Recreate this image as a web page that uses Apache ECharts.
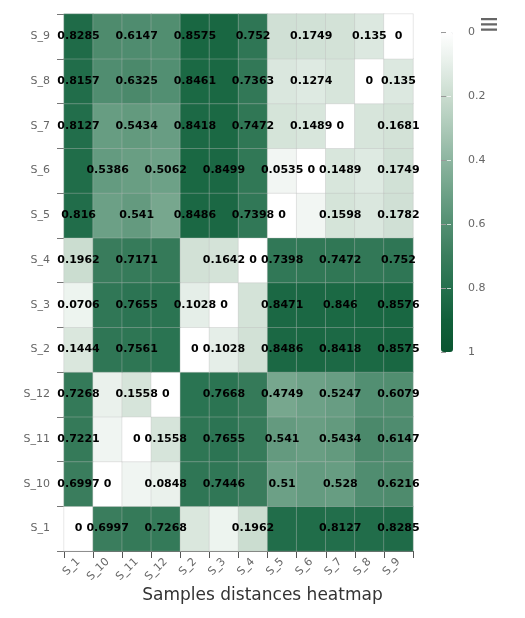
<!DOCTYPE html>
<html><head><meta charset="utf-8">
<script src="https://cdn.jsdelivr.net/npm/echarts@6/dist/echarts.min.js"></script>
<style>html,body{margin:0;padding:0;background:#fff}#c{width:525px;height:618px}</style>
</head><body><div id="c"></div>
<script>
// Category order along both axes
const samples = ['S_1','S_10','S_11','S_12','S_2','S_3','S_4','S_5','S_6','S_7','S_8','S_9'];
// Distance rows (one per sample, columns follow `samples`)
const row_S_1  = [0, 0.6997, 0.7221, 0.7268, 0.1444, 0.0706, 0.1962, 0.816, 0.82, 0.8127, 0.8157, 0.8285];
const row_S_10 = [0.6997, 0, 0.0605, 0.0848, 0.7513, 0.7446, 0.7065, 0.51, 0.5386, 0.528, 0.6108, 0.6216];
const row_S_11 = [0.7221, 0.0605, 0, 0.1558, 0.7561, 0.7655, 0.7171, 0.541, 0.5213, 0.5434, 0.6325, 0.6147];
const row_S_12 = [0.7268, 0.0848, 0.1558, 0, 0.7712, 0.7668, 0.7235, 0.4749, 0.5062, 0.5247, 0.6021, 0.6079];
const row_S_2  = [0.1444, 0.7513, 0.7561, 0.7712, 0, 0.1028, 0.1713, 0.8486, 0.8507, 0.8418, 0.8461, 0.8575];
const row_S_3  = [0.0706, 0.7446, 0.7655, 0.7668, 0.1028, 0, 0.1642, 0.8471, 0.8499, 0.846, 0.8502, 0.8576];
const row_S_4  = [0.1962, 0.7065, 0.7171, 0.7235, 0.1713, 0.1642, 0, 0.7398, 0.7421, 0.7472, 0.7363, 0.752];
const row_S_5  = [0.816, 0.51, 0.541, 0.4749, 0.8486, 0.8471, 0.7398, 0, 0.0535, 0.1598, 0.1431, 0.1782];
const row_S_6  = [0.82, 0.5386, 0.5213, 0.5062, 0.8507, 0.8499, 0.7421, 0.0535, 0, 0.1489, 0.1274, 0.1749];
const row_S_7  = [0.8127, 0.528, 0.5434, 0.5247, 0.8418, 0.846, 0.7472, 0.1598, 0.1489, 0, 0.1527, 0.1681];
const row_S_8  = [0.8157, 0.6108, 0.6325, 0.6021, 0.8461, 0.8502, 0.7363, 0.1431, 0.1274, 0.1527, 0, 0.135];
const row_S_9  = [0.8285, 0.6216, 0.6147, 0.6079, 0.8575, 0.8576, 0.752, 0.1782, 0.1749, 0.1681, 0.135, 0];
// Columns whose value label is visible in each row (others hidden by overlap in the original)
const shownCols = [
  [0,1,3,6,9,11],
  [0,1,3,5,7,9,11],
  [0,2,3,5,7,9,11],
  [0,2,3,5,7,9,11],
  [0,2,4,5,7,9,11],
  [0,2,4,5,7,9,11],
  [0,2,5,6,7,9,11],
  [0,2,4,6,7,9,11],
  [1,3,5,7,8,9,11],
  [0,2,4,6,8,9,11],
  [0,2,4,6,8,10,11],
  [0,2,4,6,8,10,11]
];
const colorTicks = [0, 0.2, 0.4, 0.6, 0.8, 1];
const chartTitle = 'Samples distances heatmap';

const rows = [row_S_1,row_S_10,row_S_11,row_S_12,row_S_2,row_S_3,row_S_4,row_S_5,row_S_6,row_S_7,row_S_8,row_S_9];
const data = [];
rows.forEach((r, y) => r.forEach((v, x) => {
  data.push({value: [x, y, v], label: {show: shownCols[y].indexOf(x) >= 0}});
}));

const FONT = '"DejaVu Sans", sans-serif';
const chart = echarts.init(document.getElementById('c'), null, {renderer: 'canvas'});
chart.setOption({
  animation: false,
  backgroundColor: '#fff',
  title: {text: chartTitle, left: 'center', top: 587, padding: 0,
    textStyle: {fontFamily: FONT, fontSize: 17, fontWeight: 'normal', color: '#333'}},
  toolbox: {right: 13, top: 3, itemSize: 16, showTitle: false,
    iconStyle: {color: '#666', borderWidth: 0},
    emphasis: {iconStyle: {color: '#666', borderWidth: 0}},
    feature: {myMenu: {show: true, title: ' ',
      icon: 'path://M0,0H16V2.2H0Z M0,5.2H16V7.4H0Z M0,10.6H16V12.8H0Z', onclick: function(){}}}},
  grid: [
    {left: 64, top: 14, width: 349, height: 537},
    {left: 441, top: 32, width: 12, height: 320}
  ],
  xAxis: [
    {type: 'category', data: samples, gridIndex: 0,
      axisLine: {show: true, lineStyle: {color: '#555'}},
      axisTick: {show: true, length: 7, lineStyle: {color: '#555'}},
      axisLabel: {rotate: 45, fontFamily: FONT, fontSize: 11, color: '#666', margin: 9},
      splitLine: {show: false}},
    {type: 'value', gridIndex: 1, show: false, min: 0, max: 1}
  ],
  yAxis: [
    {type: 'category', data: samples, gridIndex: 0,
      axisLine: {show: false},
      axisTick: {show: true, length: 7, lineStyle: {color: '#777'}},
      axisLabel: {fontFamily: FONT, fontSize: 11, color: '#666', margin: 14},
      splitLine: {show: false}},
    {type: 'value', gridIndex: 1, min: 0, max: 1, interval: 0.2, inverse: true, position: 'right', z: 10,
      axisLine: {show: false},
      axisTick: {show: true, inside: false, length: 5, lineStyle: {color: '#999'}},
      axisLabel: {fontFamily: FONT, fontSize: 11, color: '#666', margin: 15,
        formatter: v => colorTicks.indexOf(Math.round(v*10)/10) >= 0 ? String(Math.round(v*10)/10) : ''},
      splitLine: {show: true, lineStyle: {color: 'rgba(255,255,255,0.7)', type: 'dashed'}}}
  ],
  visualMap: {
    type: 'continuous', min: 0, max: 1, inverse: true, calculable: false,
    orient: 'vertical', left: 441, top: 32, padding: 0, itemWidth: 12, itemHeight: 320,
    text: null, showLabel: false, hoverLink: false, seriesIndex: 0,
    inRange: {color: ['#ffffff','#e6efe9','#cadccf','#acc9b8','#8db5a0','#6fa288','#538f72','#3a7d5d','#24704d','#11603a','#0a5530']}
  },
  series: [{
    type: 'heatmap', xAxisIndex: 0, yAxisIndex: 0, data: data,
    itemStyle: {borderColor: 'rgba(190,190,190,0.35)', borderWidth: 1},
    emphasis: {disabled: true},
    label: {show: true, color: '#000', fontFamily: FONT, fontSize: 11, fontWeight: 'bold',
      formatter: p => String(p.value[2])}
  }]
});
</script>
</body></html>
